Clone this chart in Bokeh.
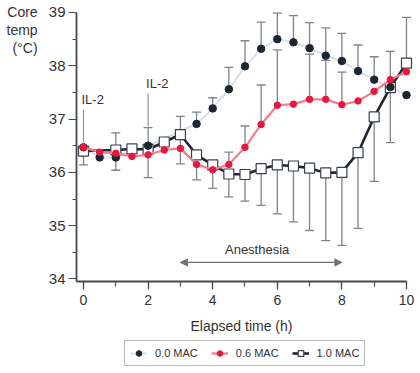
from bokeh.plotting import figure
from bokeh.models import (Range1d, SingleIntervalTicker, Label, Arrow, NormalHead,
                          Legend, LegendItem, ColumnDataSource)
from bokeh.embed import file_html
from bokeh.resources import INLINE

# ---------------- data ----------------
# 0.0 MAC (black dots, light line)
t_00 = [0, 0.5, 1.0, 2.0, 3.5, 4.0, 4.5, 5.0, 5.5, 6.0, 6.5, 7.0, 7.5, 8.0, 8.5, 9.0, 9.5, 10.0]
v_00 = [36.47, 36.28, 36.28, 36.50, 36.91, 37.20, 37.56, 37.99, 38.32, 38.50, 38.44, 38.33,
        38.19, 38.09, 37.90, 37.74, 37.60, 37.45]
hi_00 = [None, None, None, None, 37.13, 37.40, 37.97, 38.47, 38.82, 38.99, 38.94, 38.81,
         38.71, 38.61, 38.39, 38.17, None, None]
lo_00 = [None] * len(t_00)

# 0.6 MAC (red dots)
t_06 = [0, 0.5, 1.0, 1.5, 2.0, 2.5, 3.0, 3.5, 4.0, 4.5, 5.0, 5.5, 6.0, 6.5, 7.0, 7.5, 8.0,
        8.5, 9.0, 9.5, 10.0]
v_06 = [36.47, 36.38, 36.36, 36.30, 36.33, 36.42, 36.45, 36.15, 36.05, 36.15, 36.47, 36.90,
        37.26, 37.28, 37.37, 37.37, 37.27, 37.34, 37.52, 37.74, 37.89]
hi_06 = [None, None, None, None, None, None, None, None, None, 36.38, 36.87, 37.64, 38.30,
         None, 38.22, 38.10, 37.88, None, None, None, None]
lo_06 = [None, None, None, None, None, None, None, 35.86, None, None, None, None, None,
         None, None, None, None, None, None, None, None]

# 1.0 MAC (open squares)
t_10 = [0, 1.0, 1.5, 2.0, 2.5, 3.0, 3.5, 4.0, 4.5, 5.0, 5.5, 6.0, 6.5, 7.0, 7.5, 8.0,
        8.5, 9.0, 9.5, 10.0]
v_10 = [36.40, 36.42, 36.44, 36.43, 36.57, 36.71, 36.33, 36.14, 35.97, 35.96, 36.07, 36.14,
        36.12, 36.08, 35.99, 36.00, 36.37, 37.04, 37.59, 38.05]
hi_10 = [None, 36.74, None, 36.84, None, 37.05, None, None, None, None, None, None,
         None, None, None, None, None, None, 38.27, 38.91]
lo_10 = [36.14, 36.04, None, 35.90, None, 36.16, None, 35.70, 35.54, 35.46, 35.38, 35.22,
         35.07, 34.91, 34.72, 34.63, 34.95, 35.83, 36.56, None]

il2_times = [0, 2]
il2_tops = [37.18, 37.48]
il2_bottoms = [36.56, 36.86]
anesthesia_start, anesthesia_end = 3, 8

FONT = "Liberation Sans"
TXT = "#333333"
BAR = "#7d848c"
AX = "#45494e"

X0, X1 = -0.217, 10.0      # x-axis extent
Y0, Y1 = 33.953, 39.0      # y-axis extent

p = figure(width=418, height=370, output_backend="svg", toolbar_location=None,
           x_range=Range1d(-2.570, 10.372), y_range=Range1d(32.283, 39.225),
           min_border_left=0, min_border_right=0, min_border_top=0, min_border_bottom=0)
p.outline_line_color = None
p.grid.visible = False
p.background_fill_color = "white"
p.border_fill_color = "white"

# axes (library axes pinned at the chart's corner)
for ax in (p.xaxis[0], p.yaxis[0]):
    ax.axis_line_color = AX
    ax.axis_line_width = 1.8
    ax.major_tick_line_color = AX
    ax.minor_tick_line_color = AX
    ax.major_tick_line_width = 1.2
    ax.minor_tick_line_width = 1.2
    ax.major_tick_in = 0
    ax.minor_tick_in = 0
    ax.major_tick_out = 8
    ax.major_label_text_font = FONT
    ax.major_label_text_color = TXT

p.xaxis.major_label_text_font_size = "14px"
p.yaxis.major_label_text_font_size = "15px"
p.xaxis.ticker = SingleIntervalTicker(interval=2, num_minor_ticks=2)
p.yaxis.ticker = SingleIntervalTicker(interval=1, num_minor_ticks=2)
p.xaxis.minor_tick_out = 5
p.yaxis.minor_tick_out = 4
p.xaxis.fixed_location = Y0
p.yaxis.fixed_location = X0
p.xaxis.bounds = (X0, X1)
p.yaxis.bounds = (Y0, Y1)
p.xaxis.major_label_standoff = 6
p.yaxis.major_label_standoff = 3
p.xaxis.axis_label = "Elapsed time (h)"
p.xaxis.axis_label_text_font = FONT
p.xaxis.axis_label_text_font_size = "14px"
p.xaxis.axis_label_text_font_style = "normal"
p.xaxis.axis_label_text_color = TXT
p.xaxis.axis_label_standoff = 9


def bars(ts, vs, his, los):
    x0, y0, y1 = [], [], []
    for t, v, h, l in zip(ts, vs, his, los):
        for e in (h, l):
            if e is not None:
                x0.append(t); y0.append(v); y1.append(e)
    return x0, y0, y1


for ts, vs, his, los in ((t_00, v_00, hi_00, lo_00), (t_06, v_06, hi_06, lo_06),
                         (t_10, v_10, hi_10, lo_10)):
    x0, y0, y1 = bars(ts, vs, his, los)
    p.segment(x0=x0, y0=y0, x1=x0, y1=y1, line_color=BAR, line_width=1.3)
    p.scatter(x=x0, y=y1, marker="dash", size=9, line_color=BAR, line_width=1.3)

# IL-2 markers
for t, top, bot in zip(il2_times, il2_tops, il2_bottoms):
    p.segment(x0=[t], y0=[bot], x1=[t], y1=[top], line_color="#8a9096", line_width=1.1)
    p.add_layout(Label(x=t, y=top + 0.05, text="IL-2", text_font=FONT, text_font_size="13px",
                       text_color=TXT, text_align="left", text_baseline="bottom", x_offset=-2))

# series
src00 = ColumnDataSource(dict(t=t_00, v=v_00))
src06 = ColumnDataSource(dict(t=t_06, v=v_06))
src10 = ColumnDataSource(dict(t=t_10, v=v_10))

l00 = p.line("t", "v", source=src00, line_color="#d8dfe5", line_width=2)
l10 = p.line("t", "v", source=src10, line_color="#1e2633", line_width=2.6)
m10 = p.scatter("t", "v", source=src10, marker="square", size=10, fill_color="white",
                line_color="#3a4048", line_width=1.2)
m00 = p.scatter("t", "v", source=src00, marker="circle", size=7.5, fill_color="#1c2533",
                line_color="#1c2533")
l06 = p.line("t", "v", source=src06, line_color="#f47a8c", line_width=2.2)
m06 = p.scatter("t", "v", source=src06, marker="circle", size=6.5, fill_color="#e8183c",
                line_color="#e8183c")

# anesthesia arrow
p.add_layout(Arrow(x_start=anesthesia_start, y_start=34.31, x_end=anesthesia_end, y_end=34.31,
                   line_color="#6e7378", line_width=1.2,
                   start=NormalHead(size=7, fill_color="#6e7378", line_color="#6e7378"),
                   end=NormalHead(size=7, fill_color="#6e7378", line_color="#6e7378")))
p.add_layout(Label(x=(anesthesia_start + anesthesia_end) / 2, y=34.545, x_offset=-4,
                   text="Anesthesia", text_font=FONT, text_font_size="13px", text_color=TXT,
                   text_align="center", text_baseline="middle"))

# y axis title
p.add_layout(Label(x=-1.42, y=39.15, text="Core\ntemp\n(°C)", text_font=FONT,
                   text_font_size="14px", text_color=TXT, text_align="right",
                   text_baseline="top", text_line_height=1.1))

legend = Legend(items=[LegendItem(label="0.0 MAC", renderers=[l00, m00]),
                       LegendItem(label="0.6 MAC", renderers=[l06, m06]),
                       LegendItem(label="1.0 MAC", renderers=[l10, m10])],
                location=(124, 4), orientation="horizontal",
                label_text_font=FONT, label_text_font_size="11px", label_text_color=TXT,
                border_line_color="#777777", border_line_width=1,
                glyph_width=17, glyph_height=14, label_standoff=8, spacing=13,
                padding=5, margin=0, label_height=13)
p.add_layout(legend, "center")

open("out.html", "w").write(file_html(p, INLINE))
